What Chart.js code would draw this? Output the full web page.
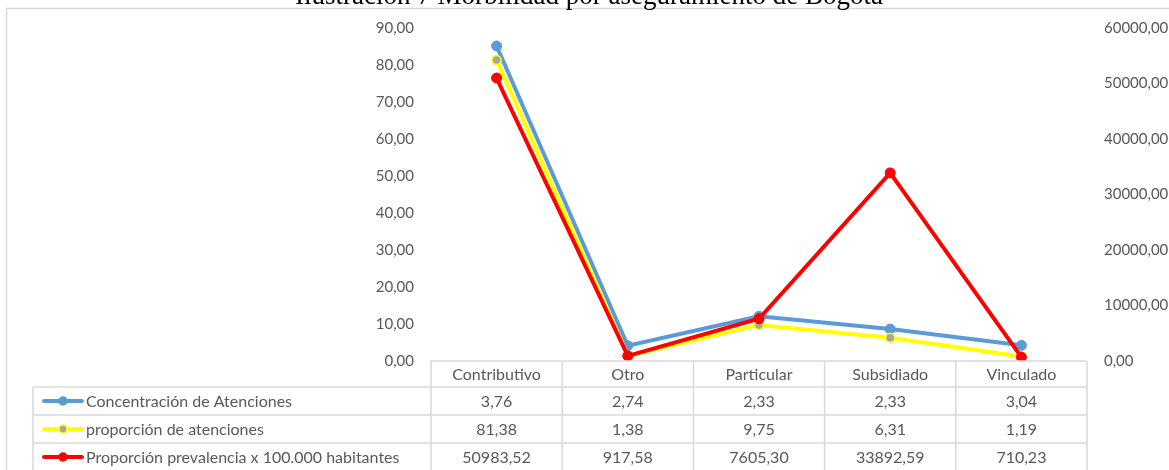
<!DOCTYPE html>
<html>
<head>
<meta charset="utf-8">
<script src="https://cdn.jsdelivr.net/npm/chart.js@4"></script>
<style>
html,body{margin:0;padding:0;background:#fff;overflow:hidden;}
#wrap{width:1169px;height:470px;position:relative;}
</style>
</head>
<body>
<div id="wrap"><canvas id="c" width="1169" height="470"></canvas></div>
<script>
const titleText = 'Ilustración 7 Morbilidad por aseguramiento de Bogotá';
const categories = ['Contributivo', 'Otro', 'Particular', 'Subsidiado', 'Vinculado'];
const concentracion = [3.76, 2.74, 2.33, 2.33, 3.04];
const proporcion = [81.38, 1.38, 9.75, 6.31, 1.19];
const prevalencia = [50983.52, 917.58, 7605.30, 33892.59, 710.23];
const seriesNames = ['Concentración de Atenciones', 'proporción de atenciones', 'Proporción prevalencia x 100.000 habitantes'];

const fmt = v => Number(v).toFixed(2).replace('.', ',');
const FONT = 'Lato, "Liberation Sans", sans-serif';
const TXT = '#595959';
const GRID = '#D9D9D9';

const BLUE = '#5B9BD5', YELLOW = '#FFFF00', RED = '#FF0000', GREY = '#A5A5A5';

const decor = {
  id: 'decor',
  beforeDraw(chart) {
    const ctx = chart.ctx;
    ctx.save();
    ctx.strokeStyle = GRID;
    ctx.lineWidth = 1.5;
    ctx.beginPath();
    ctx.moveTo(6.5, 480);
    ctx.lineTo(6.5, 8.5);
    ctx.lineTo(1180, 8.5);
    ctx.stroke();
    ctx.fillStyle = '#000';
    ctx.font = '27px "Liberation Serif", "Times New Roman", serif';
    ctx.textAlign = 'center';
    ctx.textBaseline = 'alphabetic';
    ctx.fillText(titleText, 589, 4);
    ctx.restore();
  },
  afterDraw(chart) {
    const ctx = chart.ctx;
    const x = chart.scales.x;
    const ca = chart.chartArea;
    const left = ca.left, right = ca.right;
    const rows = [ca.bottom, 387, 415, 443, 471];
    const legLeft = 33;
    ctx.save();
    ctx.strokeStyle = GRID;
    ctx.lineWidth = 1.5;
    ctx.beginPath();
    ctx.moveTo(left, rows[0]); ctx.lineTo(right, rows[0]);
    for (let r = 1; r < rows.length; r++) {
      ctx.moveTo(legLeft, rows[r]); ctx.lineTo(right, rows[r]);
    }
    const bw = (right - left) / categories.length;
    for (let i = 0; i <= categories.length; i++) {
      const xx = left + i * bw;
      ctx.moveTo(xx, rows[0]);
      ctx.lineTo(xx, rows[4]);
    }
    ctx.moveTo(legLeft, rows[1]); ctx.lineTo(legLeft, rows[4]);
    ctx.stroke();

    ctx.fillStyle = TXT;
    ctx.font = '16px ' + FONT;
    ctx.textAlign = 'center';
    ctx.textBaseline = 'middle';
    const data = [concentracion, proporcion, prevalencia];
    categories.forEach((c, i) => {
      const cx = x.getPixelForValue(i);
      ctx.fillText(c, cx, (rows[0] + rows[1]) / 2 + 1);
      data.forEach((arr, r) => {
        ctx.fillText(fmt(arr[i]), cx, (rows[r + 1] + rows[r + 2]) / 2 + 1);
      });
    });
    const keys = [
      {line: BLUE, fill: BLUE, border: BLUE},
      {line: YELLOW, fill: GREY, border: YELLOW},
      {line: RED, fill: RED, border: RED}
    ];
    keys.forEach((k, r) => {
      const cy = (rows[r + 1] + rows[r + 2]) / 2;
      ctx.strokeStyle = k.line;
      ctx.lineWidth = 4;
      ctx.lineCap = 'round';
      ctx.beginPath();
      ctx.moveTo(44, cy); ctx.lineTo(82, cy);
      ctx.stroke();
      ctx.beginPath();
      ctx.arc(63, cy, 4, 0, Math.PI * 2);
      ctx.fillStyle = k.fill;
      ctx.fill();
      ctx.lineWidth = 1.5;
      ctx.strokeStyle = k.border;
      ctx.stroke();
      ctx.fillStyle = TXT;
      ctx.textAlign = 'left';
      ctx.fillText(seriesNames[r], 86, cy + 1);
    });
    ctx.restore();
  }
};

new Chart(document.getElementById('c'), {
  type: 'line',
  data: {
    labels: categories,
    datasets: [
      {
        label: seriesNames[2], data: prevalencia, yAxisID: 'y1',
        borderColor: RED, backgroundColor: RED, borderWidth: 4,
        pointRadius: 5, pointBackgroundColor: RED, pointBorderColor: RED, pointBorderWidth: 1,
        tension: 0, fill: false
      },
      {
        label: seriesNames[1], data: proporcion, yAxisID: 'y',
        borderColor: YELLOW, backgroundColor: YELLOW, borderWidth: 4,
        pointRadius: 4.5, pointBackgroundColor: GREY, pointBorderColor: YELLOW, pointBorderWidth: 1.5,
        tension: 0, fill: false
      },
      {
        label: seriesNames[0], data: concentracion, yAxisID: 'y',
        borderColor: BLUE, backgroundColor: BLUE, borderWidth: 4,
        pointRadius: 5, pointBackgroundColor: BLUE, pointBorderColor: BLUE, pointBorderWidth: 1,
        tension: 0, fill: false
      }
    ]
  },
  options: {
    responsive: false,
    animation: false,
    devicePixelRatio: 1,
    layout: { padding: { left: 0, right: 0, top: 28, bottom: 109 } },
    plugins: { legend: { display: false }, tooltip: { enabled: false }, title: { display: false } },
    scales: {
      x: { display: false, offset: true },
      y: {
        position: 'left', stacked: true, min: 0, max: 90,
        afterFit(s) { s.width = 431; },
        grid: { display: false, drawTicks: false },
        border: { display: false },
        ticks: { stepSize: 10, padding: 17, color: TXT, font: { family: FONT, size: 15 }, callback: v => fmt(v) }
      },
      y1: {
        position: 'right', min: 0, max: 60000,
        afterFit(s) { s.width = 82; },
        grid: { display: false, drawTicks: false },
        border: { display: false },
        ticks: { stepSize: 10000, padding: 17, color: TXT, font: { family: FONT, size: 15 }, callback: v => fmt(v) }
      }
    }
  },
  plugins: [decor]
});
</script>
</body>
</html>
